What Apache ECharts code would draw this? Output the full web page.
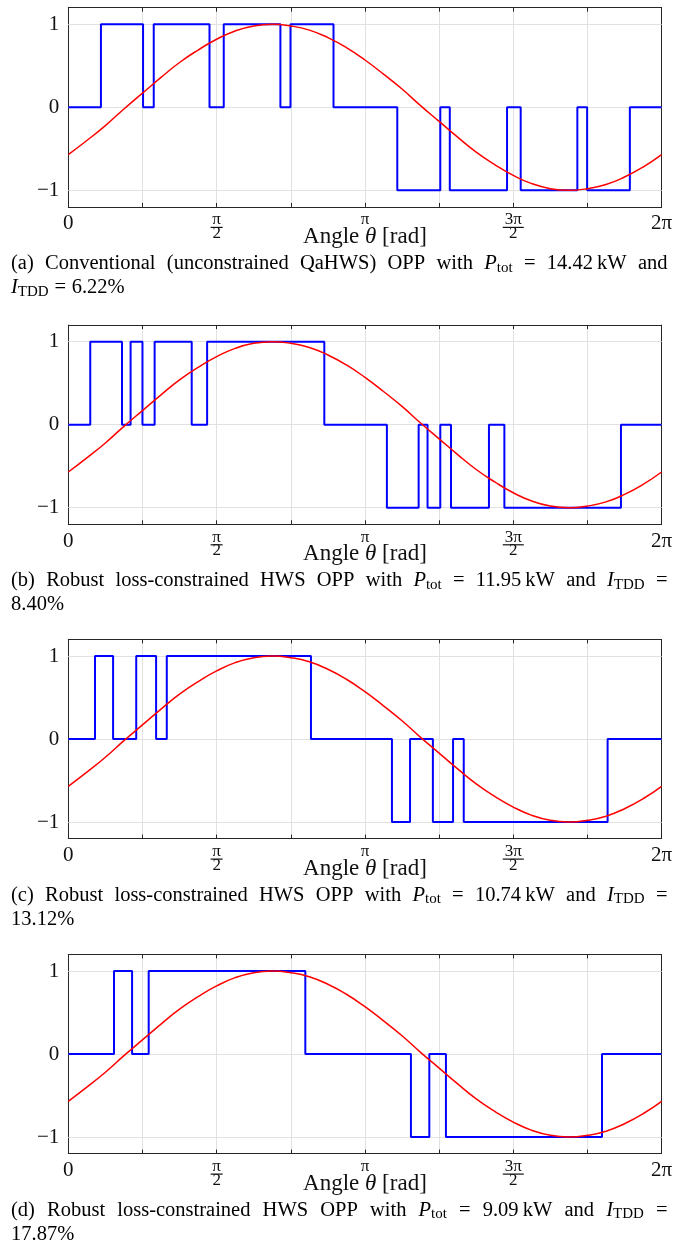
<!DOCTYPE html>
<html>
<head>
<meta charset="utf-8">
<script src="https://cdn.jsdelivr.net/npm/echarts@6/dist/echarts.min.js"></script>
<style>
html, body { margin: 0; padding: 0; background: #fff; }
#chart { width: 689px; height: 1245px; }
</style>
</head>
<body>
<div id="chart"></div>
<script>
// angles are in units of pi (0 .. 2 = 0 .. 2pi)
var xTickValues = [0, 0.5, 1, 1.5, 2];
var xTickLabels = ['0', 'π/2', 'π', '3π/2', '2π'];
var yTicks = [-1, 0, 1];

// reference sinusoid (red)
var sineX = [0, 0.0625, 0.125, 0.1875, 0.25, 0.3125, 0.375, 0.4375, 0.5, 0.5625, 0.625, 0.6875, 0.75, 0.8125, 0.875, 0.9375,
	1, 1.0625, 1.125, 1.1875, 1.25, 1.3125, 1.375, 1.4375, 1.5, 1.5625, 1.625, 1.6875, 1.75, 1.8125, 1.875, 1.9375, 2];
var sineY = [-0.57, -0.40, -0.22, -0.02, 0.17, 0.36, 0.54, 0.69, 0.82, 0.92, 0.98, 1.00, 0.98, 0.93, 0.84, 0.72,
	0.57, 0.40, 0.22, 0.02, -0.17, -0.36, -0.54, -0.69, -0.82, -0.92, -0.98, -1.00, -0.98, -0.93, -0.84, -0.72, -0.57];

// switching angles (blue) and the level after each switch
var switchA = [0.110, 0.252, 0.288, 0.476, 0.524, 0.715, 0.749, 0.894, 1.109, 1.254, 1.286, 1.479, 1.525, 1.716, 1.749, 1.893];
var levelA = [1, 0, 1, 0, 1, 0, 1, 0, -1, 0, -1, 0, -1, 0, -1, 0];
var switchB = [0.074, 0.181, 0.210, 0.250, 0.291, 0.416, 0.468, 0.863, 1.074, 1.181, 1.211, 1.254, 1.290, 1.418, 1.470, 1.863];
var levelB = [1, 0, 1, 0, 1, 0, 1, 0, -1, 0, -1, 0, -1, 0, -1, 0];
var switchC = [0.090, 0.151, 0.229, 0.296, 0.332, 0.818, 1.091, 1.152, 1.229, 1.297, 1.333, 1.818];
var levelC = [1, 0, 1, 0, 1, 0, -1, 0, -1, 0, -1, 0];
var switchD = [0.154, 0.215, 0.271, 0.799, 1.155, 1.217, 1.273, 1.799];
var levelD = [1, 0, 1, 0, -1, 0, -1, 0];

var captions = [
	['(a) Conventional (unconstrained QaHWS) OPP with P_tot = 14.42~kW and', 'I_TDD = 6.22%'],
	['(b) Robust loss-constrained HWS OPP with P_tot = 11.95~kW and I_TDD =', '8.40%'],
	['(c) Robust loss-constrained HWS OPP with P_tot = 10.74~kW and I_TDD =', '13.12%'],
	['(d) Robust loss-constrained HWS OPP with P_tot = 9.09~kW and I_TDD =', '17.87%']
];

var panels = [
	{ sw: switchA, lv: levelA },
	{ sw: switchB, lv: levelB },
	{ sw: switchC, lv: levelC },
	{ sw: switchD, lv: levelD }
];

/*
 * layout
 */
var serif = '"Liberation Serif", "Times New Roman", serif';
var panelTop = [7.7, 325.1, 639.4, 954.4];
var plotH = 199.2;
var plotL = 68.3, plotW = 593.3;
var axisColor = '#262626';
var gridColor = '#e1e1e1';
var labelColor = '#111';
var capSize = 20.5;

var measureCtx = document.createElement('canvas').getContext('2d');
function textWidth(str, style, size) {
	measureCtx.font = style + ' ' + size + 'px ' + serif;
	return measureCtx.measureText(str).width;
}

function parseWord(w) {
	w = w.replace(/~/g, '\u2009');
	var m = w.match(/^(.)_(.+)$/);
	if (m) return [[m[1], 'i'], [m[2], 's']];
	return [[w, 'r']];
}
var segFont = {
	r: { style: 'normal', size: capSize, dy: 0 },
	i: { style: 'italic', size: capSize, dy: 0 },
	s: { style: 'normal', size: 15, dy: 4 }
};

function captionElements(lines, top) {
	var els = [];
	var capL = 11, capR = 667.5;
	lines.forEach(function (line, li) {
		var words = line.split(' ').map(parseWord);
		var widths = words.map(function (segs) {
			var w = 0;
			segs.forEach(function (s) { w += textWidth(s[0], segFont[s[1]].style, segFont[s[1]].size); });
			return w;
		});
		var total = widths.reduce(function (a, b) { return a + b; }, 0);
		var justify = li < lines.length - 1;
		var gap = justify ? (capR - capL - total) / (words.length - 1) : capSize * 0.28;
		var x = capL;
		var y = top + (li === 0 ? 256 : 280);
		words.forEach(function (segs) {
			segs.forEach(function (s) {
				var f = segFont[s[1]];
				els.push({
					type: 'text',
					x: x,
					y: y + f.dy,
					silent: true,
					style: {
						text: s[0],
						fontFamily: serif,
						fontSize: f.size,
						fontStyle: f.style,
						fill: '#000',
						align: 'left',
						verticalAlign: 'middle'
					}
				});
				x += textWidth(s[0], f.style, f.size);
			});
			x += gap;
		});
	});
	return els;
}

function tickLabel(v) {
	var i = xTickValues.indexOf(v);
	if (i < 0) return '';
	var s = xTickLabels[i];
	var parts = s.split('/');
	if (parts.length === 2) {
		return '{n|' + parts[0] + '}\n{b' + parts[0].length + '| }\n{d|' + parts[1] + '}';
	}
	if (s === 'π') return '{n|π}';
	return '{m|' + s + '}';
}

function yLabel(v) {
	return v < 0 ? '\u2212' + (-v) : String(v);
}

var grids = [], xAxes = [], yAxes = [], series = [], graphics = [];

panels.forEach(function (p, k) {
	grids.push({ left: plotL, top: panelTop[k], width: plotW, height: plotH });

	// bottom x axis
	xAxes.push({
		type: 'value', gridIndex: k, position: 'bottom',
		min: 0, max: 2, interval: 0.25,
		axisLine: { show: true, onZero: false, lineStyle: { color: axisColor, width: 1 } },
		axisTick: { show: true, inside: true, length: 4, lineStyle: { color: axisColor } },
		splitLine: { show: true, lineStyle: { color: gridColor, width: 1 } },
		axisLabel: {
			show: true, margin: 6.5, color: labelColor, fontFamily: serif,
			formatter: tickLabel,
			rich: {
				m: { fontSize: 21, lineHeight: 21, fontFamily: serif, color: labelColor },
				n: { fontSize: 17, lineHeight: 13, fontFamily: serif, color: labelColor },
				d: { fontSize: 17, lineHeight: 10, fontFamily: serif, color: labelColor },
				b1: { width: 12, height: 1.2, lineHeight: 2, fontSize: 1, backgroundColor: labelColor },
				b2: { width: 21, height: 1.2, lineHeight: 2, fontSize: 1, backgroundColor: labelColor }
			}
		},
		name: '{r|Angle }{i|θ}{r| [rad]}',
		nameLocation: 'middle',
		nameGap: 30,
		nameMoveOverlap: false,
		nameTextStyle: {
			verticalAlign: 'middle',
			rich: {
				r: { fontSize: 23, fontFamily: serif, color: labelColor },
				i: { fontSize: 23, fontFamily: serif, fontStyle: 'italic', color: labelColor }
			}
		}
	});
	// top x axis (box)
	xAxes.push({
		type: 'value', gridIndex: k, position: 'top',
		min: 0, max: 2, interval: 0.25,
		axisLine: { show: true, onZero: false, lineStyle: { color: axisColor, width: 1 } },
		axisTick: { show: true, inside: true, length: 4, lineStyle: { color: axisColor } },
		splitLine: { show: false },
		axisLabel: { show: false }
	});
	// left y axis
	yAxes.push({
		type: 'value', gridIndex: k, position: 'left',
		min: -1.2, max: 1.2,
		axisLine: { show: true, onZero: false, lineStyle: { color: axisColor, width: 1 } },
		axisTick: { show: true, inside: true, length: 6, customValues: yTicks, lineStyle: { color: axisColor } },
		splitLine: { show: false },
		axisLabel: {
			show: true, margin: 9, customValues: yTicks, formatter: yLabel,
			fontSize: 21, fontFamily: serif, color: labelColor
		}
	});
	// right y axis (box)
	yAxes.push({
		type: 'value', gridIndex: k, position: 'right',
		min: -1.2, max: 1.2,
		axisLine: { show: true, onZero: false, lineStyle: { color: axisColor, width: 1 } },
		axisTick: { show: true, inside: true, length: 6, customValues: yTicks, lineStyle: { color: axisColor } },
		splitLine: { show: false },
		axisLabel: { show: false }
	});

	var xi = k * 2, yi = k * 2;

	// horizontal grid lines at the y ticks
	series.push({
		type: 'line', xAxisIndex: xi, yAxisIndex: yi, data: [], z: 1,
		markLine: {
			silent: true, z: 1, symbol: 'none', animation: false,
			label: { show: false },
			lineStyle: { color: gridColor, width: 1, type: 'solid' },
			data: yTicks.map(function (v) { return { yAxis: v }; })
		}
	});

	var stepData = [[0, 0]];
	p.sw.forEach(function (x, i) { stepData.push([x, p.lv[i]]); });
	stepData.push([2, 0]);
	series.push({
		type: 'line', xAxisIndex: xi, yAxisIndex: yi, z: 3,
		step: 'end', showSymbol: false, animation: false,
		lineStyle: { color: '#0000ff', width: 2 },
		data: stepData
	});

	series.push({
		type: 'line', xAxisIndex: xi, yAxisIndex: yi, z: 4,
		smooth: true, showSymbol: false, animation: false,
		lineStyle: { color: '#ff0000', width: 1.5 },
		data: sineX.map(function (x, i) { return [x, sineY[i]]; })
	});

	graphics = graphics.concat(captionElements(captions[k], panelTop[k]));
});

var chart = echarts.init(document.getElementById('chart'));
chart.setOption({
	animation: false,
	backgroundColor: '#fff',
	grid: grids,
	xAxis: xAxes,
	yAxis: yAxes,
	series: series,
	graphic: graphics
});
</script>
</body>
</html>
